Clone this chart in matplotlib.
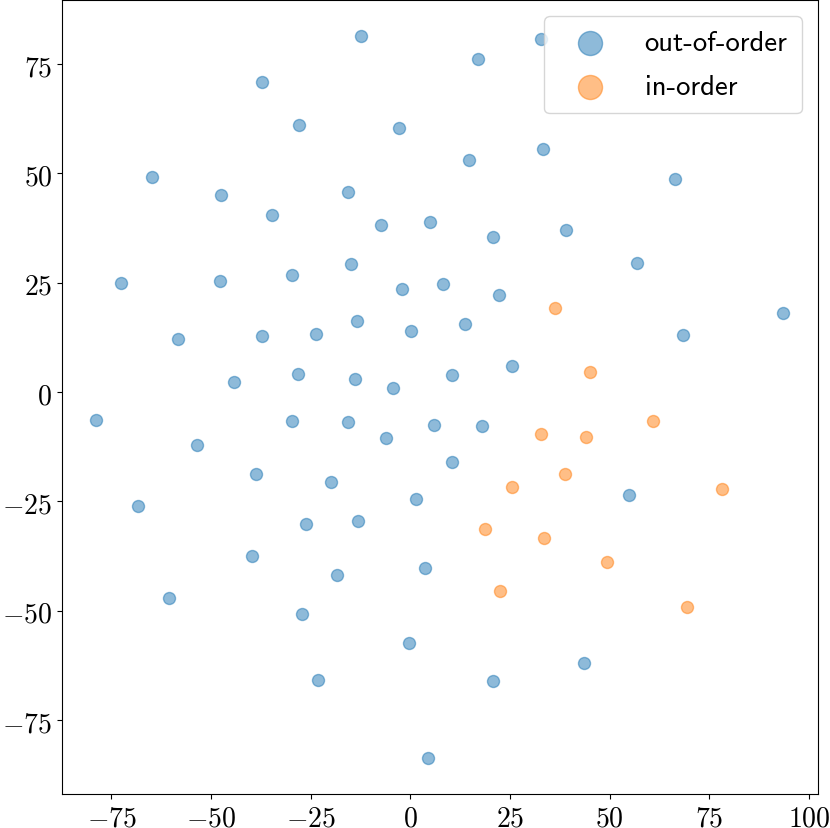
import matplotlib
matplotlib.use('Agg')
import numpy as np
import matplotlib.pyplot as plt
from matplotlib.ticker import FuncFormatter

plt.rcParams['mathtext.fontset'] = 'cm'

# embedding coordinates
out_x = [-12.4, -37.2, -27.9, -2.8, -64.9, -47.4, -15.7, -34.6, -7.4, 5.0,
         -14.8, -72.7, -47.7, -29.7, -2.2, 8.3, -58.3, -37.2, -23.6, -13.3,
         0.2, -44.2, -28.2, -13.9, -4.4,
         32.7, 16.9, 33.2, 14.6, 66.4, 39.0, 20.8, 56.8, 22.3, 93.6,
         68.3, 13.6, 10.5, 25.4,
         -78.8, -53.6, -29.7, -15.7, -6.2, 6.0, -38.7, -19.9, 1.3, -68.3,
         -26.2, -13.1, -39.8, -18.5, 3.7, -60.5, -27.1, -0.4, -23.1, 4.3,
         18.0, 10.4, 54.9, 43.6, 20.8]
out_y = [81.4, 70.8, 61.0, 60.3, 49.1, 45.0, 45.8, 40.4, 38.2, 38.9,
         29.2, 25.0, 25.4, 26.7, 23.5, 24.8, 12.2, 12.8, 13.3, 16.2,
         13.9, 2.4, 4.1, 3.1, 1.0,
         80.8, 76.2, 55.6, 53.0, 48.7, 37.1, 35.5, 29.5, 22.1, 18.1,
         13.0, 15.5, 4.0, 5.9,
         -6.5, -12.0, -6.6, -6.8, -10.5, -7.5, -18.7, -20.6, -24.4, -26.1,
         -30.1, -29.5, -37.5, -41.9, -40.2, -47.2, -50.7, -57.3, -65.8, -83.6,
         -7.7, -16.0, -23.5, -62.0, -66.0]

in_x = [36.4, 45.2, 32.9, 44.0, 61.0, 38.9, 25.6, 78.2, 18.8, 33.5,
        49.4, 22.6, 69.5]
in_y = [19.2, 4.6, -9.7, -10.2, -6.7, -18.7, -21.8, -22.2, -31.3, -33.4,
        -38.8, -45.5, -49.1]

fig = plt.figure(figsize=(8.3, 8.29), dpi=100)
ax = fig.add_axes([0.0747, 0.0413, 0.9105, 0.9575])

ax.scatter(out_x, out_y, s=75, color='tab:blue', alpha=0.5, label='out-of-order')
ax.scatter(in_x, in_y, s=75, color='tab:orange', alpha=0.5, label='in-order')

ax.set_xticks([-75, -50, -25, 0, 25, 50, 75, 100])
ax.set_yticks([-75, -50, -25, 0, 25, 50, 75])
fmt = FuncFormatter(lambda v, p: '$%d$' % v)
ax.xaxis.set_major_formatter(fmt)
ax.yaxis.set_major_formatter(fmt)
ax.tick_params(labelsize=20)

ax.legend(loc='upper right', markerscale=2, prop={'family': 'cmss10', 'size': 20.7},
          handlelength=2.2, handletextpad=0.8, labelspacing=0.65, borderaxespad=0.55,
          borderpad=0.5)

fig.savefig('out.png', dpi=100)
